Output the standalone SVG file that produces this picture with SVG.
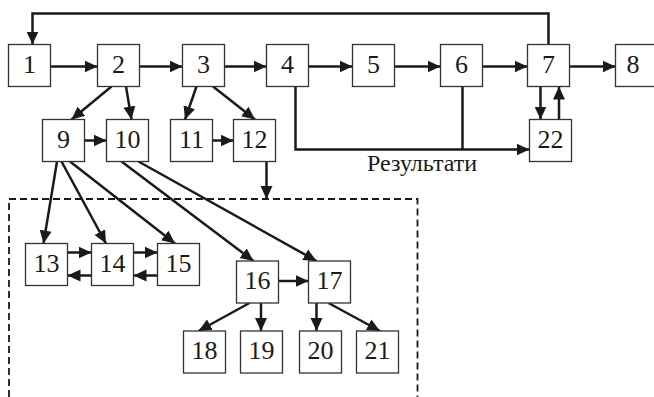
<svg xmlns="http://www.w3.org/2000/svg" width="654" height="397" viewBox="0 0 654 397">
<style>
.b rect{fill:#fff;stroke:#333;stroke-width:1.3}
.b text{font-family:"Liberation Serif","Times New Roman",serif;font-size:26px;text-anchor:middle;fill:#1a1a1a}
.c path{fill:none;stroke:#1a1a1a;stroke-width:2.5}
.a{marker-end:url(#ah)}
.lbl{font-family:"Liberation Serif","Times New Roman",serif;font-size:24px;text-anchor:middle;fill:#1a1a1a}
</style>
<defs>
<marker id="ah" markerUnits="userSpaceOnUse" markerWidth="14" markerHeight="14" viewBox="0 0 14 14" refX="13" refY="7" orient="auto">
<path d="M0,1 L13,7 L0,13 Z" fill="#1a1a1a"/>
</marker>
</defs>
<rect width="654" height="397" fill="#fff"/>
<g class="c" id="connectors">
<path class="a" d="M548.5,44.5 V13.5 H32.5 V44.5"/>
<path class="a" d="M50.5,66.5 H97.5"/>
<path class="a" d="M139.5,66.5 H182.5"/>
<path class="a" d="M224.5,66.5 H266.5"/>
<path class="a" d="M308.5,66.5 H352.5"/>
<path class="a" d="M394.5,66.5 H440.5"/>
<path class="a" d="M482.5,66.5 H527.5"/>
<path class="a" d="M569.5,66.5 H615.5"/>
<path class="a" d="M111.5,86.5 L71.5,119.5"/>
<path class="a" d="M126,86.5 L131.5,119.5"/>
<path class="a" d="M196.5,86.5 L185,119.5"/>
<path class="a" d="M213,86.5 L255,119.5"/>
<path class="a" d="M84.5,140.5 H106.5"/>
<path class="a" d="M212.5,140.5 H233.5"/>
<path class="a" d="M295.5,86.5 V149.5 H529.5"/>
<path d="M462.5,86.5 V149.5"/>
<path class="a" d="M540.5,86.5 V119.5"/>
<path class="a" d="M559,119.5 V86.5"/>
<path class="a" d="M266.5,161.5 V199"/>
<path class="a" d="M57,161.5 L43.5,243.5"/>
<path class="a" d="M61.5,161.5 L106,243.5"/>
<path class="a" d="M70,161.5 L175,243.5"/>
<path class="a" d="M121.5,161.5 L253.5,261"/>
<path class="a" d="M138.5,161.5 L316.5,261"/>
<path class="a" d="M67.5,252.5 H91.5"/>
<path class="a" d="M91.5,275.5 H67.5"/>
<path class="a" d="M133.5,252.5 H157.5"/>
<path class="a" d="M157.5,275.5 H133.5"/>
<path class="a" d="M278.5,281 H308.5"/>
<path class="a" d="M249.5,303 L198.5,331"/>
<path class="a" d="M261,303 V331"/>
<path class="a" d="M316.5,303 V331"/>
<path class="a" d="M328.5,303 L380,331"/>
<path d="M9,397 V199 H417.5 V397" style="stroke-width:1.8;stroke-dasharray:7 4"/>
</g>
<text class="lbl" x="422" y="171">Результати</text>
<g class="b">
<g id="n1"><rect x="8.5" y="44.5" width="42" height="42"/><text x="29.5" y="72.5">1</text></g>
<g id="n2"><rect x="97.5" y="44.5" width="42" height="42"/><text x="118.5" y="72.5">2</text></g>
<g id="n3"><rect x="182.5" y="44.5" width="42" height="42"/><text x="203.5" y="72.5">3</text></g>
<g id="n4"><rect x="266.5" y="44.5" width="42" height="42"/><text x="287.5" y="72.5">4</text></g>
<g id="n5"><rect x="352.5" y="44.5" width="42" height="42"/><text x="373.5" y="72.5">5</text></g>
<g id="n6"><rect x="440.5" y="44.5" width="42" height="42"/><text x="461.5" y="72.5">6</text></g>
<g id="n7"><rect x="527.5" y="44.5" width="42" height="42"/><text x="548.5" y="72.5">7</text></g>
<g id="n8"><rect x="615.5" y="44.5" width="42" height="42"/><text x="633" y="72.5">8</text></g>
<g id="n9"><rect x="42.5" y="119.5" width="42" height="42"/><text x="63.5" y="147.5">9</text></g>
<g id="n10"><rect x="106.5" y="119.5" width="42" height="42"/><text x="127.5" y="147.5">10</text></g>
<g id="n11"><rect x="170.5" y="119.5" width="42" height="42"/><text x="191.5" y="147.5">11</text></g>
<g id="n12"><rect x="233.5" y="119.5" width="42" height="42"/><text x="254.5" y="147.5">12</text></g>
<g id="n22"><rect x="529.5" y="119.5" width="42" height="42"/><text x="550.5" y="147.5">22</text></g>
<g id="n13"><rect x="25.5" y="243.5" width="42" height="42"/><text x="46.5" y="271.5">13</text></g>
<g id="n14"><rect x="91.5" y="243.5" width="42" height="42"/><text x="112.5" y="271.5">14</text></g>
<g id="n15"><rect x="157.5" y="243.5" width="42" height="42"/><text x="178.5" y="271.5">15</text></g>
<g id="n16"><rect x="236.5" y="261" width="42" height="42"/><text x="257.5" y="289">16</text></g>
<g id="n17"><rect x="308.5" y="261" width="42" height="42"/><text x="329.5" y="289">17</text></g>
<g id="n18"><rect x="183.5" y="331" width="42" height="42"/><text x="204.5" y="359">18</text></g>
<g id="n19"><rect x="240.5" y="331" width="42" height="42"/><text x="261.5" y="359">19</text></g>
<g id="n20"><rect x="299.5" y="331" width="42" height="42"/><text x="320.5" y="359">20</text></g>
<g id="n21"><rect x="356.5" y="331" width="42" height="42"/><text x="377.5" y="359">21</text></g>
</g>
</svg>
